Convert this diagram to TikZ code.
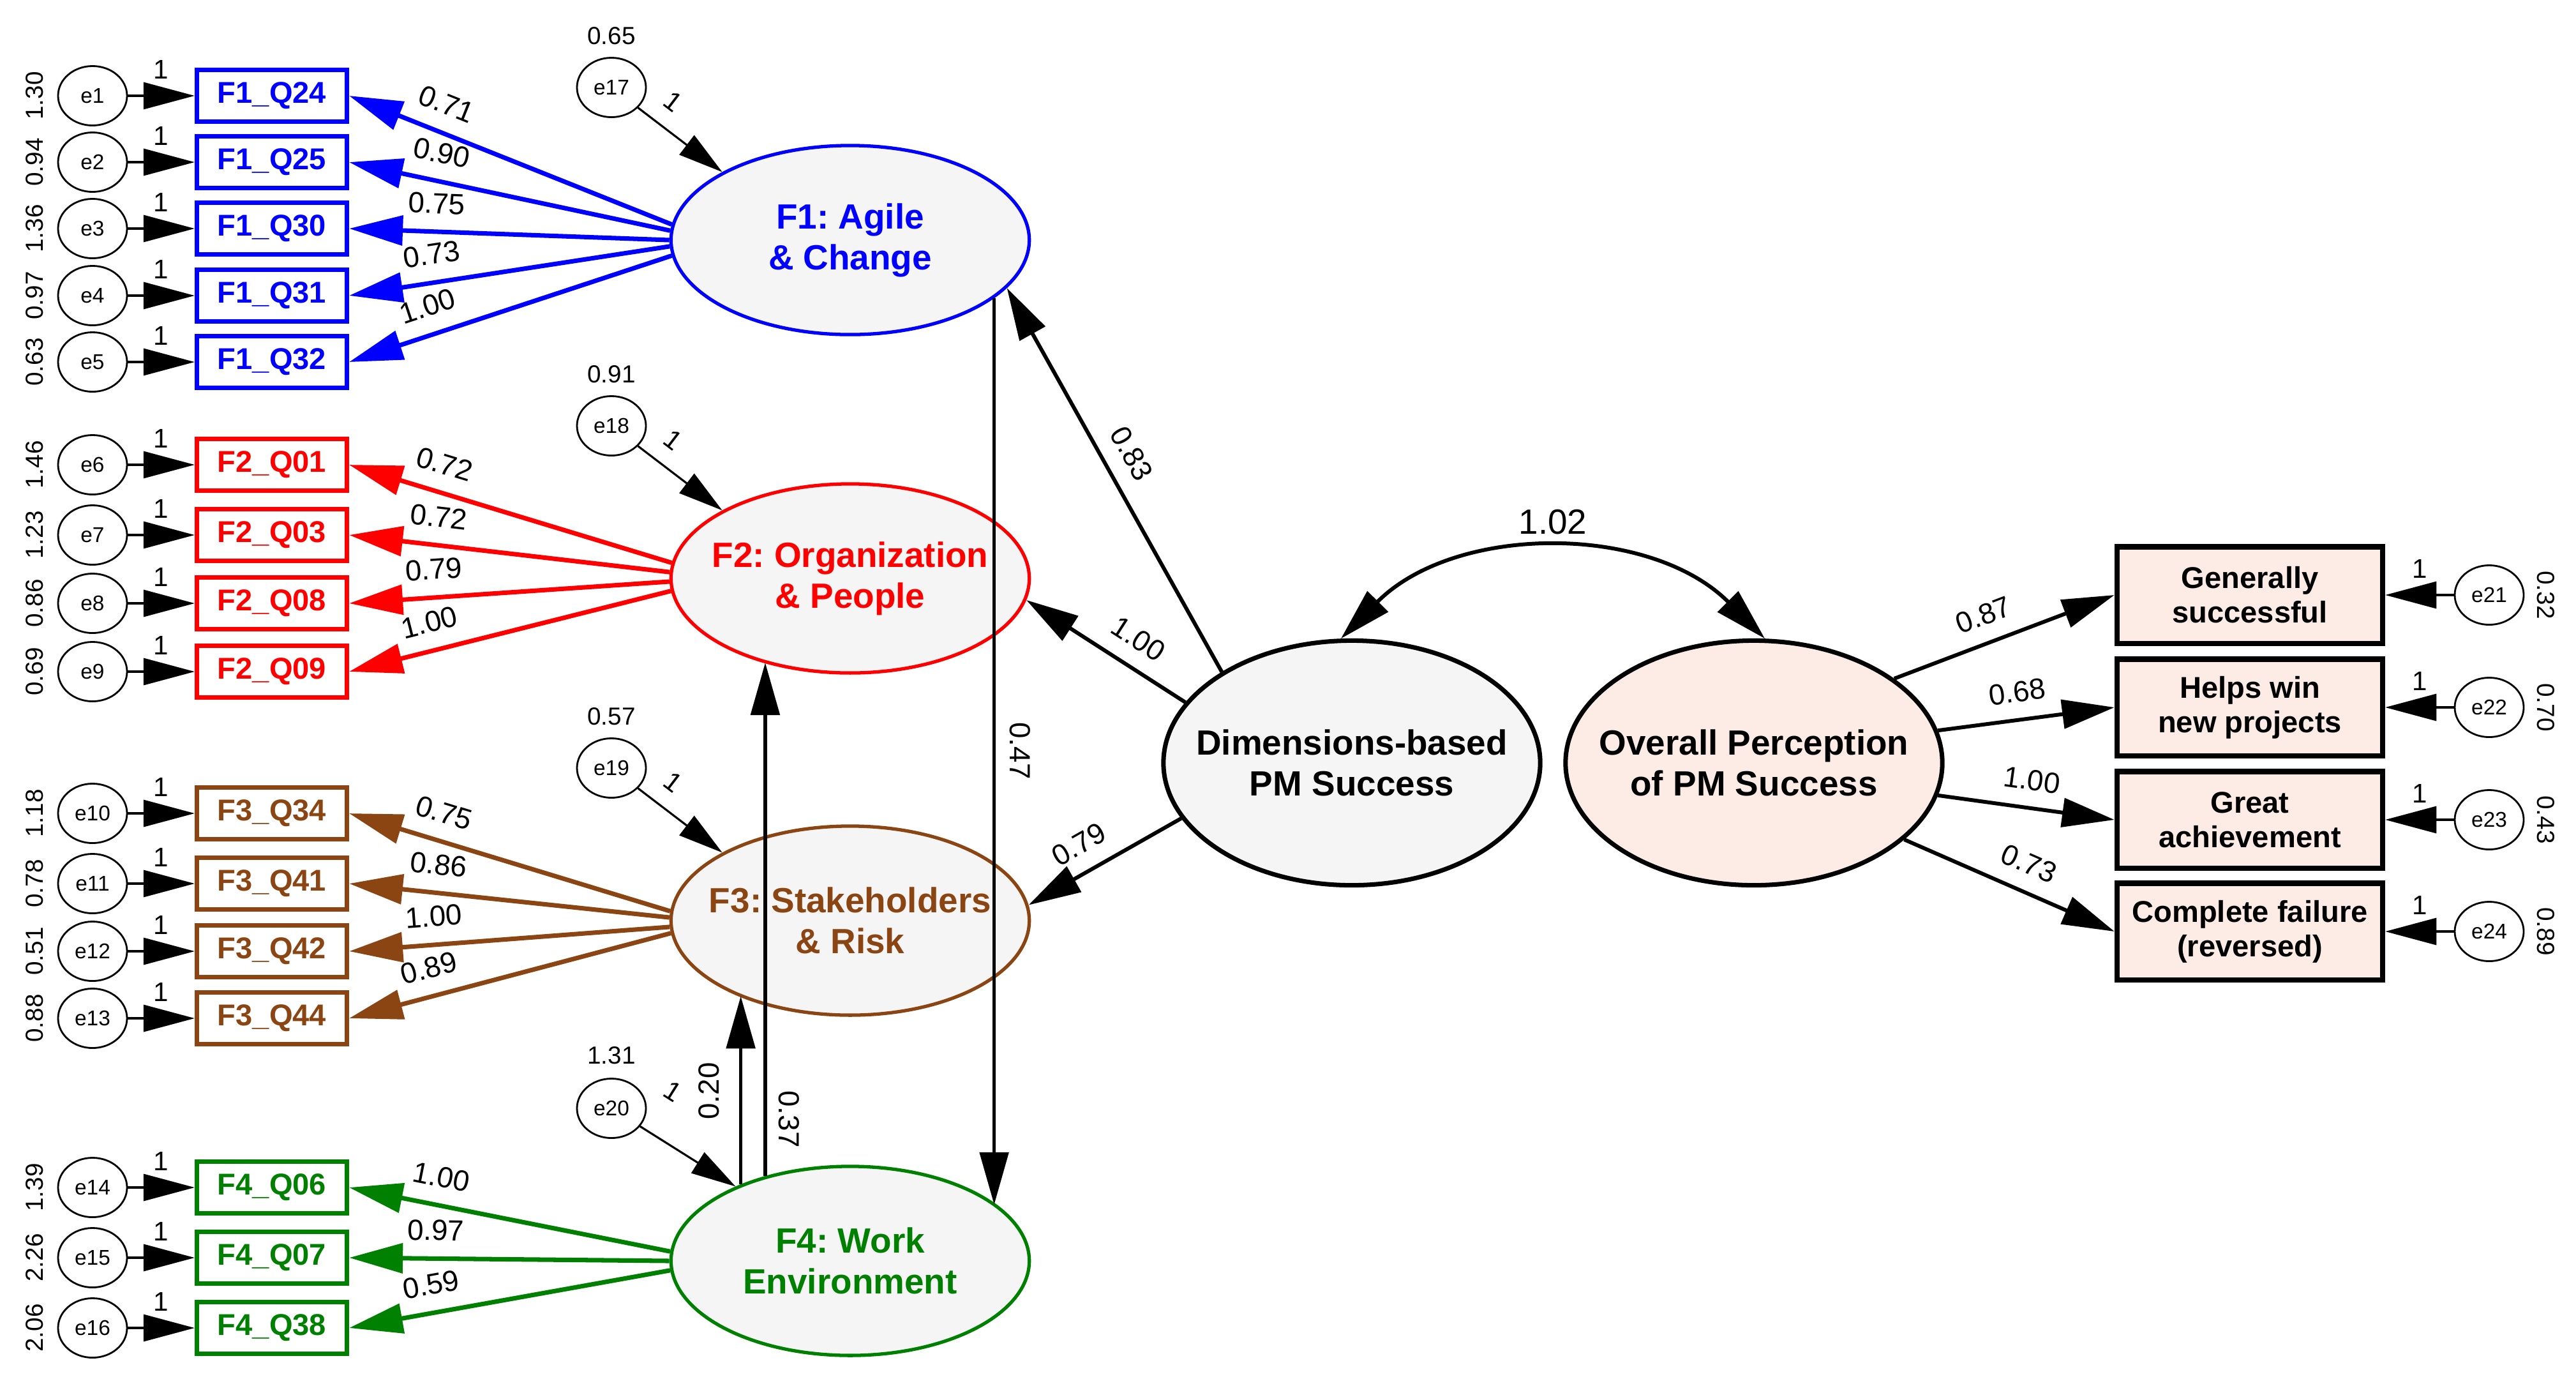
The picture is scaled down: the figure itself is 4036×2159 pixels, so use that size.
\documentclass[tikz,border=0pt]{standalone}
\usepackage{fontspec}
\setmainfont{Liberation Sans}
\usetikzlibrary{arrows.meta,shapes.geometric}
\definecolor{latfill}{HTML}{F5F5F5}
\definecolor{pinkfill}{HTML}{FDECE6}
\definecolor{cblue}{HTML}{0000FF}
\definecolor{cred}{HTML}{FF0000}
\definecolor{cbrown}{HTML}{8B4513}
\definecolor{cgreen}{HTML}{008000}
\frenchspacing
\newcommand\zl[1]{\makebox[0pt]{#1}}
\tikzset{
  lat/.style={ellipse, draw, line width=1.5pt, fill=latfill, minimum width=5.61cm, minimum height=2.96cm, inner sep=0pt, align=center, font=\fontsize{15.6}{18.2}\selectfont\bfseries},
  bigell/.style={ellipse, draw, line width=2pt, minimum width=5.9cm, minimum height=3.83cm, inner sep=0pt, align=center, font=\fontsize{15.6}{18.2}\selectfont\bfseries},
  ind/.style={rectangle, draw, line width=2pt, fill=white, minimum width=2.35cm, minimum height=0.81cm, inner sep=0pt, font=\fontsize{13.4}{15}\selectfont\bfseries},
  obs/.style={rectangle, draw, line width=2.3pt, fill=pinkfill, minimum width=4.16cm, minimum height=1.51cm, inner sep=0pt, align=center, font=\fontsize{13.4}{15.4}\selectfont\bfseries},
  err/.style={ellipse, draw, line width=0.8pt, fill=white, minimum width=1.08cm, minimum height=0.93cm, inner sep=0pt, font=\fontsize{9.5}{10}\selectfont},
  varlab/.style={inner sep=0pt, font=\fontsize{11}{12}\selectfont},
  lab/.style={inner sep=0pt, above=7pt, font=\fontsize{13}{14}\selectfont},
  vlab/.style={inner sep=0pt, font=\fontsize{13}{14}\selectfont},
  onelab/.style={inner sep=0pt, above=7pt, font=\fontsize{12}{13}\selectfont},
  ethin/.style={line width=0.9pt, -{Triangle[length=0.8cm,width=0.42cm]}},
  load/.style={line width=2pt, -{Triangle[length=0.84cm,width=0.46cm]}},
  blk/.style={line width=1.7pt, -{Triangle[length=0.82cm,width=0.45cm]}},
  vert/.style={line width=1.6pt, -{Triangle[length=0.82cm,width=0.45cm]}},
}
% #1 err, #2 y, #3 variance, #4 box name, #5 box text, #6 colour, #7 factor, #8 angle, #9 loading
\newcommand\indrow[9]{%
  \node[err] (#1) at (145,#2) {#1};
  \node[varlab, rotate=90] (v#1) at (54,#2) {#3};
  \node[ind, draw=#6, text=#6] (#4) at (426,#2) {#5};
  \draw[ethin] (#1) -- node[onelab] (o#1) {1} (#4);
  \draw[load, draw=#6] (#7.#8) -- node[lab, pos=0.73, sloped] (l#1) {#9} (#4.east);
}
% #1 box, #2 y, #3 text, #4 err, #5 variance, #6 angle, #7 loading, #8 pos
\newcommand\obsrow[8]{%
  \node[obs] (#1) at (3525,#2) {#3};
  \node[err] (#4) at (3900,#2) {#4};
  \node[varlab, rotate=-90] (v#4) at (3989,#2) {#5};
  \draw[ethin] (#4) -- node[onelab] (o#4) {1} (#1);
  \draw[blk] (ov.#6) -- node[lab, pos=#8, sloped] (l#4) {#7} (#1.west);
}
\begin{document}
\begin{tikzpicture}[x=0.01cm, y=-0.01cm]
\fill[white] (0,0) rectangle (4036,2159);
\useasboundingbox (0,0) rectangle (4036,2159);

% latent factors
\node[lat, draw=cblue, text=cblue] (f1) at (1332,376) {\zl{F1: Agile}\\\zl{\& Change}};
\node[lat, draw=cred, text=cred] (f2) at (1332,906) {\zl{F2: Organization}\\\zl{\& People}};
\node[lat, draw=cbrown, text=cbrown] (f3) at (1332,1442) {\zl{F3: Stakeholders}\\\zl{\& Risk}};
\node[lat, draw=cgreen, text=cgreen] (f4) at (1332,1975) {\zl{F4: Work}\\\zl{Environment}};

\node[bigell, fill=latfill] (dim) at (2118,1195) {\zl{Dimensions-based}\\\zl{PM Success}};
\node[bigell, fill=pinkfill] (ov) at (2748,1195) {\zl{Overall Perception}\\\zl{of PM Success}};

% indicators
\indrow{e1}{150}{1.30}{q24}{F1\_Q24}{cblue}{f1}{175.7}{0.71}
\indrow{e2}{254}{0.94}{q25}{F1\_Q25}{cblue}{f1}{177}{0.90}
\indrow{e3}{358}{1.36}{q30}{F1\_Q30}{cblue}{f1}{180}{0.75}
\indrow{e4}{463}{0.97}{q31}{F1\_Q31}{cblue}{f1}{182.4}{0.73}
\indrow{e5}{567}{0.63}{q32}{F1\_Q32}{cblue}{f1}{185.7}{1.00}

\indrow{e6}{728}{1.46}{q01}{F2\_Q01}{cred}{f2}{175.5}{0.72}
\indrow{e7}{838}{1.23}{q03}{F2\_Q03}{cred}{f2}{178}{0.72}
\indrow{e8}{945}{0.86}{q08}{F2\_Q08}{cred}{f2}{181.5}{0.79}
\indrow{e9}{1052}{0.69}{q09}{F2\_Q09}{cred}{f2}{184.5}{1.00}

\indrow{e10}{1274}{1.18}{q34}{F3\_Q34}{cbrown}{f3}{177}{0.75}
\indrow{e11}{1384}{0.78}{q41}{F3\_Q41}{cbrown}{f3}{179.5}{0.86}
\indrow{e12}{1490}{0.51}{q42}{F3\_Q42}{cbrown}{f3}{182}{1.00}
\indrow{e13}{1595}{0.88}{q44}{F3\_Q44}{cbrown}{f3}{184.5}{0.89}

\indrow{e14}{1860}{1.39}{q06}{F4\_Q06}{cgreen}{f4}{177}{1.00}
\indrow{e15}{1970}{2.26}{q07}{F4\_Q07}{cgreen}{f4}{180}{0.97}
\indrow{e16}{2080}{2.06}{q38}{F4\_Q38}{cgreen}{f4}{183}{0.59}

% disturbances of factors
\node[err] (e17) at (958,137) {e17};
\node[varlab] (v17) at (958,56) {0.65};
\draw[ethin, -{Triangle[length=0.7cm,width=0.38cm]}] (e17) -- node[onelab, pos=0.23, sloped] (o17) {1} (f1.152.3);
\node[err] (e18) at (958,667) {e18};
\node[varlab] (v18) at (958,586) {0.91};
\draw[ethin, -{Triangle[length=0.7cm,width=0.38cm]}] (e18) -- node[onelab, pos=0.23, sloped] (o18) {1} (f2.152.3);
\node[err] (e19) at (958,1203) {e19};
\node[varlab] (v19) at (958,1122) {0.57};
\draw[ethin, -{Triangle[length=0.7cm,width=0.38cm]}] (e19) -- node[onelab, pos=0.23, sloped] (o19) {1} (f3.152.3);
\node[err] (e20) at (958,1736) {e20};
\node[varlab] (v20) at (958,1653) {1.31};
\draw[ethin, -{Triangle[length=0.7cm,width=0.38cm]}] (e20) -- node[onelab, pos=0.08, sloped, above=9.5pt] (o20) {1} (f4.147.8);

% structural paths
\draw[blk] (dim.145.8) -- node[lab, pos=0.533, sloped] (l83) {0.83} (f1.-17.1);
\draw[blk] (dim.160.3) -- node[lab, pos=0.39, sloped] (l100) {1.00} (f2.-7.8);
\draw[blk] (dim.198.8) -- node[lab, pos=0.58, sloped] (l79) {0.79} (f3.5.7);

\draw[vert] (f1.-22) -- (f1.-22 |- f4.21.4);
\node[vlab, rotate=-90] (l47) at (1598,1176) {0.47};
\draw[vert] (f4.145.9) -- (f4.145.9 |- f3.214.1);
\node[vlab, rotate=90] (l20) at (1111,1709) {0.20};
\draw[vert] (f4.135.2) -- (f4.135.2 |- f2.224.6);
\node[vlab, rotate=-90] (l37) at (1236,1753) {0.37};

% covariance
\draw[line width=1.7pt, {Triangle[length=0.82cm,width=0.45cm]}-{Triangle[length=0.82cm,width=0.45cm]}] (dim.95.3) .. controls (2280,820) and (2585,820) .. (ov.85);
\node[inner sep=0pt, font=\fontsize{15.6}{17}\selectfont] (c102) at (2433,818) {1.02};

% outcome indicators
\obsrow{b1}{932}{Generally\\successful}{e21}{0.32}{31.3}{0.87}{0.45}
\obsrow{b2}{1108}{Helps win\\new projects}{e22}{0.70}{10.5}{0.68}{0.47}
\obsrow{b3}{1284}{Great\\achievement}{e23}{0.43}{-10.3}{1.00}{0.51}
\obsrow{b4}{1459}{Complete failure\\(reversed)}{e24}{0.89}{-27}{0.73}{0.54}
\end{tikzpicture}
\end{document}
